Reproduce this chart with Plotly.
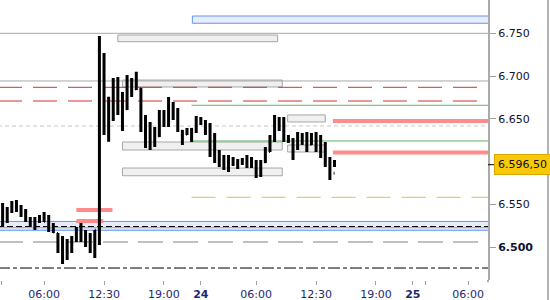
import pandas as pd
import plotly.graph_objects as go

# ---------------- data ----------------
opens = [6.540, 6.530, 6.545, 6.550, 6.545, 6.538, 6.532, 6.527, 6.530, 6.535,
         6.530, 6.520, 6.516, 6.500, 6.487, 6.505, 6.510, 6.520, 6.510, 6.505,
         6.500, 6.520, 6.665, 6.640, 6.665, 6.660, 6.680, 6.662, 6.690, 6.685,
         6.685, 6.640, 6.620, 6.635, 6.630, 6.655, 6.650, 6.660, 6.655, 6.636,
         6.632, 6.635, 6.638, 6.648, 6.645, 6.640, 6.610, 6.605, 6.600, 6.595,
         6.600, 6.598, 6.600, 6.600, 6.598, 6.600, 6.585, 6.600, 6.612, 6.628,
         6.645, 6.645, 6.628, 6.625, 6.625, 6.625, 6.628, 6.620, 6.630, 6.615,
         6.610, 6.600, 6.5865]
highs = [6.5518, 6.5471, 6.5541, 6.5553, 6.5494, 6.5448, 6.5354, 6.5354, 6.5378, 6.5413,
         6.5378, 6.5284, 6.5167, 6.5132, 6.5097, 6.5132, 6.5237, 6.5284, 6.5202, 6.5167,
         6.5202, 6.7468, 6.7270, 6.6759, 6.6978, 6.6990, 6.6814, 6.7013, 6.6978, 6.7051,
         6.6861, 6.6545, 6.6464, 6.6405, 6.6604, 6.6604, 6.6756, 6.6697, 6.6627, 6.6370,
         6.6394, 6.6394, 6.6534, 6.6522, 6.6487, 6.6452, 6.6335, 6.6137, 6.6078, 6.6078,
         6.6055, 6.6032, 6.6043, 6.6078, 6.6055, 6.6020, 6.6020, 6.6172, 6.6312, 6.6546,
         6.6522, 6.6522, 6.6312, 6.6277, 6.6347, 6.6335, 6.6347, 6.6335, 6.6347, 6.6312,
         6.6230, 6.6055, 6.6020]
lows = [6.5237, 6.5284, 6.5401, 6.5413, 6.5354, 6.5296, 6.5237, 6.5202, 6.5284, 6.5296,
        6.5179, 6.5167, 6.4933, 6.4805, 6.4852, 6.4933, 6.5062, 6.5062, 6.5003, 6.4933,
        6.4875, 6.5027, 6.6312, 6.6233, 6.6475, 6.6545, 6.6359, 6.6604, 6.6756, 6.6838,
        6.6347, 6.6160, 6.6137, 6.6172, 6.6289, 6.6405, 6.6405, 6.6487, 6.6347, 6.6195,
        6.6312, 6.6230, 6.6335, 6.6428, 6.6312, 6.6055, 6.5985, 6.5938, 6.5903, 6.5880,
        6.5950, 6.5915, 6.5961, 6.5926, 6.5926, 6.5810, 6.5821, 6.5985, 6.6113, 6.6230,
        6.6359, 6.6230, 6.6218, 6.6020, 6.6137, 6.6195, 6.6113, 6.6195, 6.6113, 6.6043,
        6.5938, 6.5786, 6.5938]
closes = [6.530, 6.545, 6.550, 6.545, 6.538, 6.532, 6.527, 6.530, 6.535, 6.530,
          6.520, 6.518, 6.500, 6.487, 6.505, 6.510, 6.520, 6.510, 6.505, 6.500,
          6.520, 6.665, 6.640, 6.665, 6.660, 6.690, 6.650, 6.690, 6.685, 6.695,
          6.640, 6.620, 6.635, 6.630, 6.655, 6.650, 6.660, 6.655, 6.637, 6.625,
          6.635, 6.638, 6.648, 6.645, 6.640, 6.610, 6.605, 6.600, 6.595, 6.600,
          6.598, 6.600, 6.600, 6.598, 6.600, 6.585, 6.600, 6.612, 6.628, 6.645,
          6.645, 6.628, 6.625, 6.625, 6.625, 6.628, 6.620, 6.630, 6.615, 6.610,
          6.600, 6.5865, 6.5965]

# 30-minute bars, trading pause 21:00-22:00
all_slots = pd.date_range("2025-09-23 01:30", "2025-09-24 14:30", freq="30min")
times = [t for t in all_slots if t.hour != 21][:len(closes)]

last_price = 6.5965
last_label = "6.596,50"

x_tickvals = ["2025-09-23 01:20", "2025-09-23 06:00", "2025-09-23 12:30", "2025-09-23 19:00",
              "2025-09-24 00:00", "2025-09-24 06:00", "2025-09-24 12:30", "2025-09-24 19:00",
              "2025-09-25 00:00", "2025-09-25 01:24", "2025-09-25 06:00"]
x_ticktext = ["", "06:00", "12:30", "19:00", "<b>24</b>", "06:00", "12:30", "19:00",
              "<b>25</b>", "", "06:00"]

y_tickvals = [6.50, 6.55, 6.65, 6.70, 6.75]
y_ticktext = ["<b>6.500</b>", "6.550", "6.650", "6.700", "6.750"]

# horizontal levels: (price, start, end, color, width, dash)
FULL0, FULL1 = "2025-09-23 01:00", "2025-09-25 09:00"
levels = [
    (6.7500, FULL0, FULL1, "#a8a8a8", 1, "solid"),
    (6.6943, FULL0, FULL1, "#a8a8a8", 1, "solid"),
    (6.6869, FULL0, FULL1, "#cc3333", 1, "24px,11px"),
    (6.6709, FULL0, FULL1, "#cc3333", 1, "24px,11px"),
    (6.6659, "2025-09-23 23:00", FULL1, "#5cb85c", 1, "solid"),
    (6.6417, FULL0, FULL1, "#c8c8c8", 1, "4px,3px"),
    (6.6242, "2025-09-23 23:00", FULL1, "#5cb85c", 1, "solid"),
    (6.5584, "2025-09-23 23:00", FULL1, "#f0b848", 1, "24px,11px"),
    (6.5229, FULL0, FULL1, "#a0a0a0", 1, "solid"),
    (6.5243, FULL0, FULL1, "#000000", 1, "6px,3px"),
    (6.5062, FULL0, FULL1, "#808080", 1, "25px,10px"),
    (6.4758, FULL0, FULL1, "#000000", 1, "12px,3px,4px,3px"),
]
thick_levels = [
    (6.6476, "2025-09-24 14:20", FULL1),
    (6.6108, "2025-09-24 14:20", FULL1),
    (6.5436, "2025-09-23 09:30", "2025-09-23 13:25"),
    (6.5307, "2025-09-23 09:30", "2025-09-23 12:25"),
]
# boxes: (x0, x1, y0, y1, kind)
boxes = [
    ("2025-09-23 23:05", FULL1, 6.7617, 6.7702, "blue"),
    (FULL0, FULL1, 6.5199, 6.5302, "blue"),
    ("2025-09-23 14:00", "2025-09-24 08:20", 6.7402, 6.7480, "gray"),
    ("2025-09-23 14:30", "2025-09-24 08:50", 6.6873, 6.6954, "gray"),
    ("2025-09-24 09:25", "2025-09-24 13:30", 6.6464, 6.6546, "gray"),
    ("2025-09-23 14:30", "2025-09-24 08:50", 6.6137, 6.6230, "gray"),
    ("2025-09-24 09:25", "2025-09-24 13:30", 6.6113, 6.6195, "gray"),
    ("2025-09-23 14:30", "2025-09-24 08:50", 6.5836, 6.5926, "gray"),
]

# ---------------- figure ----------------
fig = go.Figure()
fig.add_trace(go.Ohlc(
    x=times, open=opens, high=highs, low=lows, close=closes,
    increasing=dict(line=dict(color="black", width=3)),
    decreasing=dict(line=dict(color="black", width=3)),
    tickwidth=0.18, showlegend=False, hoverinfo="skip",
))

shapes = []
for x0, x1, y0, y1, kind in boxes:
    if kind == "blue":
        shapes.append(dict(type="rect", xref="x", yref="y", x0=x0, x1=x1, y0=y0, y1=y1,
                           fillcolor="#e6ecfa", line=dict(color="#6495ed", width=1), layer="below"))
    else:
        shapes.append(dict(type="rect", xref="x", yref="y", x0=x0, x1=x1, y0=y0, y1=y1,
                           fillcolor="#f0f0f0", line=dict(color="#a6a6a6", width=1), layer="below"))
for p, x0, x1, col, w, dash in levels:
    shapes.append(dict(type="line", xref="x", yref="y", x0=x0, x1=x1, y0=p, y1=p,
                       line=dict(color=col, width=w, dash=dash), layer="below"))
for p, x0, x1 in thick_levels:
    shapes.append(dict(type="line", xref="x", yref="y", x0=x0, x1=x1, y0=p, y1=p,
                       line=dict(color="#ff8c8c", width=4), layer="below"))
# last price tick and right frame line
shapes.append(dict(type="line", xref="paper", yref="y", x0=1, x1=1 + 6 / 488,
                   y0=last_price, y1=last_price, line=dict(color="black", width=1)))
shapes.append(dict(type="line", xref="paper", yref="paper", x0=1, x1=1,
                   y0=-0.008, y1=0, line=dict(color="#aaaaaa", width=2)))
shapes.append(dict(type="line", xref="paper", yref="paper", x0=548 / 488, x1=548 / 488,
                   y0=-0.1, y1=1, line=dict(color="#b4b4b4", width=2)))

fig.update_layout(
    width=550, height=300,
    margin=dict(l=0, r=62, t=0, b=20),
    paper_bgcolor="white", plot_bgcolor="white",
    font=dict(family="DejaVu Sans", size=11, color="#101030"),
    shapes=shapes,
    showlegend=False,
    xaxis=dict(
        type="date",
        range=["2025-09-23 01:13", "2025-09-25 08:09"],
        rangebreaks=[dict(pattern="hour", bounds=[21, 22])],
        rangeslider=dict(visible=False),
        tickmode="array", tickvals=x_tickvals, ticktext=x_ticktext,
        ticks="outside", ticklen=4, tickcolor="#a0a0a0",
        tickfont=dict(family="DejaVu Sans", size=11, color="#1a2a70"),
        showgrid=False, zeroline=False, showline=False,
    ),
    yaxis=dict(
        side="right",
        range=[6.4618, 6.7889],
        tickmode="array", tickvals=y_tickvals, ticktext=y_ticktext,
        ticks="outside", ticklen=6, tickcolor="#a0a0a0",
        tickfont=dict(family="DejaVu Sans", size=11, color="#101030"),
        showgrid=False, zeroline=False,
        showline=True, linecolor="#aaaaaa", linewidth=2,
    ),
    annotations=[dict(
        x=1, xref="paper", xanchor="left", xshift=6,
        y=last_price, yref="y", yanchor="middle",
        text=last_label, showarrow=False,
        font=dict(family="DejaVu Sans", size=11, color="#101010"),
        bgcolor="#f8c80a", bordercolor="#d8a800", borderwidth=1, borderpad=3,
    )],
)

fig.write_html("out.html")
